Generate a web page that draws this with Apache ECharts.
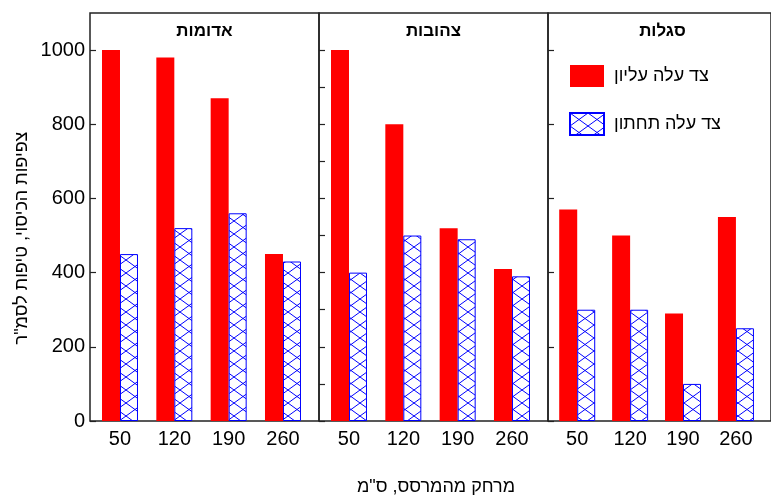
<!DOCTYPE html>
<html><head><meta charset="utf-8">
<script src="https://cdn.jsdelivr.net/npm/echarts@6/dist/echarts.min.js"></script>
<style>html,body{margin:0;padding:0;background:#fff}#c{width:771px;height:495px}</style>
</head><body><div id="c"></div>
<script>
// ---- data ----
const distances = [50, 120, 190, 260];
const panelTitles = ['אדומות', 'צהובות', 'סגלות'];
const seriesNames = ['צד עלה עליון', 'צד עלה תחתון'];
const redUpper = [1000, 980, 870, 450];
const redLower = [450, 520, 560, 430];
const yellowUpper = [1000, 800, 520, 410];
const yellowLower = [400, 500, 490, 390];
const purpleUpper = [570, 500, 290, 550];
const purpleLower = [300, 300, 100, 250];
const yTicks = [0, 200, 400, 600, 800, 1000];
const yMinorTicks = [0, 100, 200, 300, 400, 500, 600, 700, 800, 900, 1000];
const yAxisName = 'צפיפות הכיסוי, טיפות לסמ"ר';
const xAxisName = 'מרחק מהמרסס, ס"מ';

const FONT = 'Liberation Sans, Arial, sans-serif';
const panels = [[redUpper, redLower], [yellowUpper, yellowLower], [purpleUpper, purpleLower]];
const gridLefts = [90, 319, 548];
const GW = 229, GT = 13, GH = 408;

function hatch() {
  const c = document.createElement('canvas');
  c.width = 18; c.height = 13;
  const g = c.getContext('2d');
  g.fillStyle = '#fff'; g.fillRect(0, 0, 18, 13);
  g.strokeStyle = '#0000ff'; g.lineWidth = 1;
  g.beginPath();
  g.moveTo(-18, -13); g.lineTo(36, 26);
  g.moveTo(36, -13); g.lineTo(-18, 26);
  g.stroke();
  return c;
}
const hatchPattern = { image: hatch(), repeat: 'repeat' };

const grids = [], xAxes = [], yAxes = [], series = [], graphics = [];
panels.forEach((p, i) => {
  grids.push({ left: gridLefts[i], top: GT, width: GW, height: GH, show: true,
    borderColor: '#222', borderWidth: 1.5, backgroundColor: 'transparent' });
  xAxes.push({ type: 'value', gridIndex: i, min: 11.35, max: 306.4,
    axisLine: { show: false }, axisTick: { show: false }, splitLine: { show: false },
    axisLabel: { customValues: distances, fontSize: 20, color: '#000', margin: 8, fontFamily: FONT,
      formatter: v => String(v) } });
  const tickVals = i === 1 ? yMinorTicks : yTicks;
  yAxes.push({ type: 'value', gridIndex: i, min: 0, max: 1100,
    axisLine: { show: false }, splitLine: { show: false },
    axisTick: { show: true, inside: true, length: 6, customValues: tickVals, lineStyle: { color: '#222', width: 1.2 } },
    axisLabel: { show: i === 0, customValues: yTicks, fontSize: 20, color: '#000', margin: 5, fontFamily: FONT,
      formatter: v => String(v) } });
  series.push({ type: 'bar', name: seriesNames[0], xAxisIndex: i, yAxisIndex: i,
    barWidth: 18, barGap: '0%', itemStyle: { color: '#ff0000' },
    data: distances.map((d, k) => [d, p[0][k]]) });
  series.push({ type: 'bar', name: seriesNames[1], xAxisIndex: i, yAxisIndex: i,
    barWidth: 18, barGap: '0%', itemStyle: { color: hatchPattern, borderColor: '#0000ff', borderWidth: 1 },
    data: distances.map((d, k) => [d, p[1][k]]) });
  graphics.push({ type: 'text', x: gridLefts[i] + GW / 2, y: 31,
    style: { text: panelTitles[i], fontSize: 17, fontWeight: 'bold', fontFamily: FONT, fill: '#000',
      textAlign: 'center', textVerticalAlign: 'middle' } });
});
graphics.push({ type: 'text', x: 22, y: 238, rotation: Math.PI / 2,
  style: { text: yAxisName, fontSize: 18, fontFamily: FONT, fill: '#000', textAlign: 'center', textVerticalAlign: 'middle' } });
graphics.push({ type: 'text', x: 436, y: 487,
  style: { text: xAxisName, fontSize: 18, fontFamily: FONT, fill: '#000', textAlign: 'center', textVerticalAlign: 'middle' } });

const chart = echarts.init(document.getElementById('c'), null, { renderer: 'canvas' });
chart.setOption({
  animation: false,
  backgroundColor: '#fff',
  textStyle: { fontFamily: FONT },
  grid: grids, xAxis: xAxes, yAxis: yAxes, series: series,
  legend: { data: seriesNames, orient: 'vertical', left: 569, top: 65, padding: 0, itemWidth: 34, itemHeight: 22,
    itemGap: 25, icon: 'rect', textStyle: { fontSize: 18, color: '#000', fontFamily: FONT, padding: [4, 0, 0, 5] } },
  graphic: graphics
});
</script></body></html>
